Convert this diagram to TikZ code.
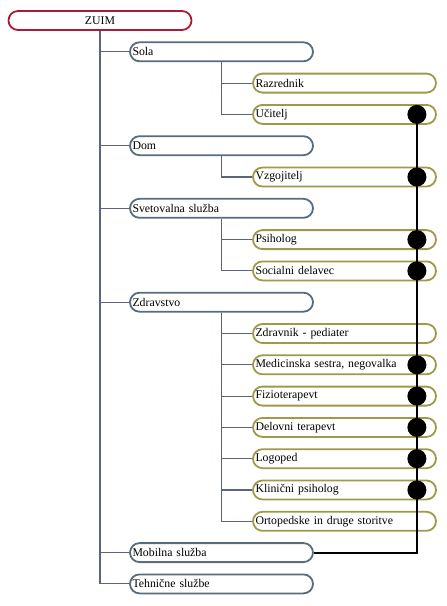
\documentclass[tikz,border=0pt]{standalone}
\usepackage{fontspec}
\setmainfont{Liberation Serif}
\usetikzlibrary{positioning}
\definecolor{rootred}{RGB}{168,28,58}
\definecolor{groupblue}{RGB}{88,108,124}
\definecolor{roleolive}{RGB}{158,154,72}
\definecolor{branchgray}{RGB}{92,100,122}
\tikzset{node distance=31.3pt,
  box/.style={draw, line width=1.8pt, rounded corners=9.5pt, fill=white,
    minimum height=19pt, text width=178pt, inner xsep=2.5pt, inner ysep=0pt,
    align=left, font=\fontsize{11.8}{12}\selectfont},
  rootbox/.style={box, draw=rootred, align=center},
  groupbox/.style={box, draw=groupblue},
  rolebox/.style={box, draw=roleolive},
  branch/.style={draw=branchgray, line width=1.1pt},
  dot/.style={circle, fill=black, minimum size=19pt, inner sep=0pt},
  link/.style={draw=black, line width=2.2pt}}
\begin{document}
\begin{tikzpicture}[x=1pt,y=1pt]
  \useasboundingbox (0,0) rectangle (447,-606);

  \node[rootbox] (zuim) at (100,-20.5) {ZUIM};
  \node[groupbox] (sola) [below of=zuim, xshift=121.5pt] {Sola};
  \node[rolebox] (razrednik) [below of=sola, xshift=123pt] {Razrednik};
  \node[rolebox] (ucitelj) [below of=razrednik] {Učitelj};
  \node[groupbox] (dom) [below of=ucitelj, xshift=-123pt] {Dom};
  \node[rolebox] (vzgojitelj) [below of=dom, xshift=123pt] {Vzgojitelj};
  \node[groupbox] (svetovalna) [below of=vzgojitelj, xshift=-123pt] {Svetovalna služba};
  \node[rolebox] (psiholog) [below of=svetovalna, xshift=123pt] {Psiholog};
  \node[rolebox] (socialni) [below of=psiholog] {Socialni delavec};
  \node[groupbox] (zdravstvo) [below of=socialni, xshift=-123pt] {Zdravstvo};
  \node[rolebox] (zdravnik) [below of=zdravstvo, xshift=123pt] {Zdravnik - pediater};
  \node[rolebox] (medicinska) [below of=zdravnik] {Medicinska sestra, negovalka};
  \node[rolebox] (fizio) [below of=medicinska] {Fizioterapevt};
  \node[rolebox] (delovni) [below of=fizio] {Delovni terapevt};
  \node[rolebox] (logoped) [below of=delovni] {Logoped};
  \node[rolebox] (klinicni) [below of=logoped] {Klinični psiholog};
  \node[rolebox] (ortoped) [below of=klinicni] {Ortopedske in druge storitve};
  \node[groupbox] (mobilna) [below of=ortoped, xshift=-123pt] {Mobilna služba};
  \node[groupbox] (tehnicne) [below of=mobilna] {Tehnične službe};

  % tree branches
  \foreach \g in {sola,dom,svetovalna,zdravstvo,mobilna,tehnicne}
    \draw[branch] (zuim) |- (\g);
  \foreach \r in {razrednik,ucitelj}
    \draw[branch] (sola) |- (\r);
  \draw[branch] (dom) |- (vzgojitelj);
  \foreach \r in {psiholog,socialni}
    \draw[branch] (svetovalna) |- (\r);
  \foreach \r in {zdravnik,medicinska,fizio,delovni,logoped,klinicni,ortoped}
    \draw[branch] (zdravstvo) |- (\r);

  % mobile service links
  \foreach \r in {ucitelj,vzgojitelj,psiholog,socialni,medicinska,fizio,delovni,logoped,klinicni}
    \node[dot] (dot-\r) at ([xshift=-20pt]\r.east) {};
  \draw[link] (dot-ucitelj) -- (dot-ucitelj |- mobilna) -- (mobilna.east);

\end{tikzpicture}
\end{document}
